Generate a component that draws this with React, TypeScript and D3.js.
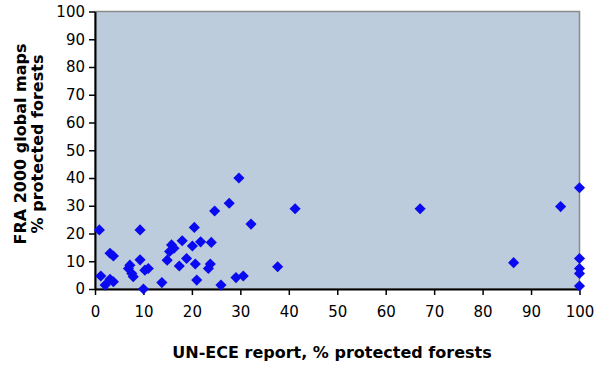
import React, { useEffect, useRef } from 'react';
import * as d3 from 'd3';

// UN-ECE report % (x) vs FRA 2000 global maps % (y)
const unEce = [
  0.9, 1.2, 2.1, 3.1, 3.8, 3.1, 3.8, 6.9, 7.2, 7.6, 7.9, 9.3, 9.3, 10.3, 11.0, 10.0,
  13.8, 14.9, 15.4, 15.8, 16.3, 17.4, 18.0, 18.9, 20.5, 20.1, 20.7, 21.0, 21.8, 24.0,
  23.8, 23.4, 24.7, 27.7, 29.7, 26.0, 29.1, 30.6, 32.2, 37.7, 41.3, 67.1, 86.4, 96.1,
  100, 100, 100, 100, 100,
];
const fraMaps = [
  21.3, 4.7, 1.4, 12.9, 11.9, 3.5, 2.6, 7.4, 8.6, 5.6, 4.4, 21.3, 10.5, 6.8, 7.4, 0,
  2.3, 10.4, 13.5, 15.9, 14.7, 8.3, 17.4, 11.0, 22.2, 15.5, 9.0, 3.2, 17.0, 16.8,
  9.0, 7.4, 28.1, 30.9, 40.0, 1.4, 4.1, 4.7, 23.4, 8.0, 28.9, 28.9, 9.5, 29.7,
  36.5, 11.0, 7.4, 5.6, 1.1,
];
const xTicks = [0, 10, 20, 30, 40, 50, 60, 70, 80, 90, 100];
const yTicks = [0, 10, 20, 30, 40, 50, 60, 70, 80, 90, 100];

const W = 599;
const H = 366;

const App: React.FC = () => {
  const svgRef = useRef<SVGSVGElement>(null);

  useEffect(() => {
    if (!svgRef.current) return;
    const svg = d3.select(svgRef.current);
    svg.selectAll('*').remove();

    const x = d3.scaleLinear().domain([0, 100]).range([95, 579.5]);
    const y = d3.scaleLinear().domain([0, 100]).range([289, 11.5]);
    const font = 'DejaVu Sans, Liberation Sans, Arial, sans-serif';

    // plot background + grey frame
    svg.append('rect')
      .attr('x', x(0))
      .attr('y', y(100))
      .attr('width', x(100) - x(0))
      .attr('height', y(0) - y(100))
      .attr('fill', '#bdccdd')
      .attr('stroke', '#8a8a8a')
      .attr('stroke-width', 1.5);

    // axes
    const gx = svg.append('g').attr('transform', `translate(0,${y(0)})`);
    gx.call(d3.axisBottom(x).tickValues(xTicks).tickSize(6).tickSizeOuter(0).tickPadding(11) as any);
    const gy = svg.append('g').attr('transform', `translate(${x(0)},0)`);
    gy.call(d3.axisLeft(y).tickValues(yTicks).tickSize(6).tickSizeOuter(0).tickPadding(4) as any);

    [gx, gy].forEach((g) => {
      g.select('.domain').attr('stroke', '#000').attr('stroke-width', 2);
      g.selectAll('.tick line').attr('stroke', '#000').attr('stroke-width', 1.5);
      g.selectAll('.tick text')
        .attr('fill', '#000')
        .attr('font-family', font)
        .attr('font-size', 15);
    });

    // points
    const diamond = d3.symbol().type(d3.symbolSquare).size(62);
    svg.append('g')
      .selectAll('path')
      .data(unEce.map((v, i) => [v, fraMaps[i]]))
      .join('path')
      .attr('d', diamond as any)
      .attr('transform', (d) => `translate(${x(d[0])},${y(d[1])}) rotate(45)`)
      .attr('fill', '#0a0af0');

    // axis titles
    svg.append('text')
      .attr('x', 332)
      .attr('y', 358)
      .attr('text-anchor', 'middle')
      .attr('font-family', font)
      .attr('font-weight', 'bold')
      .attr('font-size', 16)
      .text('UN-ECE report, % protected forests');

    const yt = svg.append('text')
      .attr('transform', 'translate(0,144) rotate(-90)')
      .attr('text-anchor', 'middle')
      .attr('font-family', font)
      .attr('font-weight', 'bold')
      .attr('font-size', 16);
    yt.append('tspan').attr('x', 0).attr('y', 26).text('FRA 2000 global maps');
    yt.append('tspan').attr('x', 0).attr('y', 43).text('% protected forests');
  }, []);

  return (
    <svg
      ref={svgRef}
      width={W}
      height={H}
      style={{ position: 'absolute', left: 0, top: 0, background: '#fff' }}
    />
  );
};

export default App;
